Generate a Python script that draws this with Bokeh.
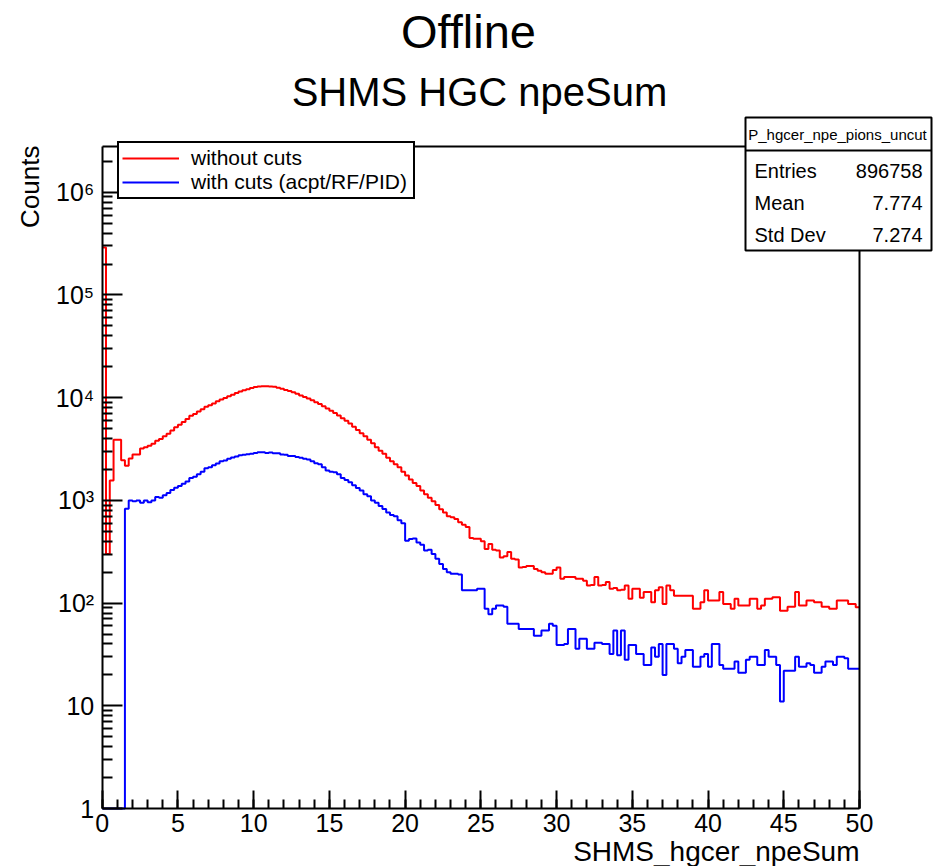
import math
from bokeh.plotting import figure
from bokeh.models import (FixedTicker, Label, BoxAnnotation, Legend, LegendItem,
                          LinearAxis, Range1d)
from bokeh.embed import file_html
from bokeh.resources import INLINE

FONT = "Liberation Sans"

# ---- data ----
bin_width = 0.25
x_ticks = [0, 5, 10, 15, 20, 25, 30, 35, 40, 45, 50]
x_minor_ticks = list(range(0, 51))
y_ticks = [1, 10, 100, 1000, 10000, 100000, 1000000]
y_tick_labels = ["1", "10", "10\u00b2", "10\u00b3", "10\u2074", "10\u2075", "10\u2076"]

counts_uncut = [
    290000, 300, 1560, 3900, 3900, 2460, 2170, 2560, 2800, 2800,
    3200, 3300, 3400, 3550, 3800, 3950, 4200, 4450, 4800, 5150,
    5450, 5800, 6200, 6650, 6950, 7350, 7700, 8150, 8450, 8800,
    9250, 9600, 9950, 10350, 10700, 11100, 11500, 11800, 12100, 12400,
    12700, 12850, 12950, 12950, 12850, 12750, 12500, 12200, 11900, 11600,
    11300, 10900, 10500, 10150, 9800, 9450, 9050, 8700, 8250, 7850,
    7450, 7100, 6700, 6300, 5950, 5600, 5200, 4850, 4500, 4200,
    3900, 3600, 3300, 3050, 2850, 2600, 2400, 2250, 2100, 1900,
    1750, 1600, 1480, 1380, 1250, 1150, 1060, 980, 900, 820,
    760, 700, 686, 660, 612, 580, 550, 430, 424, 424,
    400, 337, 377, 330, 325, 278, 285, 314, 270, 265,
    222, 225, 230, 230, 215, 207, 200, 193, 193, 210,
    222, 173, 179, 179, 179, 173, 173, 165, 148, 150,
    179, 148, 150, 160, 138, 140, 133, 135, 148, 110,
    138, 138, 113, 128, 128, 102, 133, 143, 98, 148,
    133, 118, 118, 118, 118, 118, 88, 88, 102, 133,
    106, 106, 106, 128, 98, 98, 88, 110, 95, 95,
    95, 110, 110, 88, 95, 110, 110, 114, 114, 84,
    84, 92, 92, 128, 95, 95, 106, 106, 102, 102,
    92, 92, 88, 88, 106, 106, 106, 98, 98, 91,
]

counts_cut = [
    0, 0, 0, 0, 0, 0, 830, 1000, 980, 1000,
    950, 1000, 960, 1000, 1080, 1060, 1120, 1180, 1260, 1330,
    1380, 1450, 1530, 1650, 1700, 1800, 1900, 2050, 2100, 2200,
    2280, 2400, 2450, 2550, 2620, 2680, 2750, 2780, 2820, 2850,
    2900, 2950, 2950, 2900, 2920, 2880, 2870, 2800, 2780, 2700,
    2700, 2650, 2600, 2550, 2500, 2400, 2300, 2250, 2100, 1950,
    1900, 1880, 1800, 1650, 1580, 1500, 1400, 1320, 1250, 1150,
    1100, 1000, 950, 880, 825, 760, 720, 700, 640, 600,
    405, 420, 425, 390, 370, 325, 330, 300, 270, 240,
    215, 200, 193, 193, 190, 133, 133, 133, 133, 138,
    138, 88, 78, 88, 95, 95, 92, 63, 63, 63,
    56, 56, 56, 56, 48, 48, 54, 54, 63, 60,
    39, 39, 40, 56, 56, 36, 45, 45, 36, 36,
    41, 41, 40, 40, 32, 54, 31, 54, 28, 39,
    39, 32, 32, 25, 25, 37, 30, 40, 20, 40,
    40, 36, 26, 30, 35, 35, 24, 24, 30, 32,
    24, 40, 40, 25, 23, 23, 23, 27, 21, 21,
    28, 30, 30, 25, 25, 35, 30, 30, 25, 11,
    22, 22, 22, 30, 24, 24, 26, 25, 21, 21,
    24, 27, 27, 25, 30, 30, 29, 23, 23, 23,
]

stats_title = "P_hgcer_npe_pions_uncut"
stats_names = ["Entries", "Mean", "Std Dev"]
stats_values = ["896758", "7.774", "7.274"]

legend_labels = ["without cuts", "with cuts (acpt/RF/PID)"]
series_colors = ["#ff0000", "#0000ff"]

# ---- geometry (canvas pixels) ----
W, H = 933, 866
PX_X0, PX_X50 = 101.7, 859.0      # where x=0 and x=50 sit
PX_Y1, PX_YMAX = 808.0, 146.0     # where y=1 and y=Y_MAX sit
X_LO, X_HI = 0, 50
Y_LO, Y_MAX = 1, 2.79e6

sx = (PX_X50 - PX_X0) / (X_HI - X_LO)
x_start = X_LO - PX_X0 / sx
x_end = X_HI + (W - PX_X50) / sx
k = (PX_Y1 - PX_YMAX) / math.log10(Y_MAX / Y_LO)
y_start = Y_LO * 10 ** (-(H - PX_Y1) / k)
y_end = Y_LO * 10 ** (PX_Y1 / k)

p = figure(width=W, height=H, x_range=Range1d(x_start, x_end),
           y_range=Range1d(y_start, y_end), y_axis_type="log",
           output_backend="svg", toolbar_location=None,
           min_border_left=0, min_border_right=0, min_border_top=0, min_border_bottom=0)
p.title.visible = False
p.background_fill_color = "white"
p.border_fill_color = "white"
p.outline_line_color = None
p.xgrid.visible = False
p.ygrid.visible = False

edges = [X_LO + i * bin_width for i in range(len(counts_uncut) + 1)]
renderers = []
for counts, color in zip([counts_uncut, counts_cut], series_colors):
    yv = [max(c, Y_LO) for c in counts]
    yv = yv + [yv[-1]]
    r = p.step(x=edges, y=yv, mode="after", line_color=color, line_width=2)
    renderers.append(r)

# x axis (drawn at y = 1)
xa = p.xaxis[0]
xa.fixed_location = Y_LO
xa.bounds = (X_LO, X_HI)
xa.ticker = FixedTicker(ticks=x_ticks, minor_ticks=x_minor_ticks)
xa.major_tick_in = 18
xa.major_tick_out = 0
xa.minor_tick_in = 9
xa.minor_tick_out = 0
xa.axis_line_width = 2
xa.major_tick_line_width = 2
xa.minor_tick_line_width = 2
xa.major_label_text_font = FONT
xa.major_label_text_font_size = "25px"
xa.major_label_text_color = "black"
xa.major_label_standoff = 5

# y axis (drawn at x = 0)
minor_y = [m * 10 ** e for e in range(0, 7) for m in range(2, 10) if m * 10 ** e <= Y_MAX]
ya = p.yaxis[0]
ya.fixed_location = X_LO
ya.bounds = (Y_LO, Y_MAX)
ya.ticker = FixedTicker(ticks=y_ticks, minor_ticks=minor_y)
ya.major_label_overrides = {t: lab for t, lab in zip(y_ticks, y_tick_labels)}
ya.major_tick_in = 20
ya.major_tick_out = 0
ya.minor_tick_in = 10
ya.minor_tick_out = 0
ya.axis_line_width = 2
ya.major_tick_line_width = 2
ya.minor_tick_line_width = 2
ya.major_label_text_font = FONT
ya.major_label_text_font_size = "25px"
ya.major_label_text_color = "black"
ya.major_label_standoff = 8

# top and right frame edges as plain axes
for loc, side, bnds in [(Y_MAX, "above", (X_LO, X_HI)), (X_HI, "right", (Y_LO, Y_MAX))]:
    ax = LinearAxis(fixed_location=loc, bounds=bnds, ticker=FixedTicker(ticks=[]),
                    major_tick_in=0, major_tick_out=0, minor_tick_in=0, minor_tick_out=0,
                    axis_line_width=2, axis_line_color="black",
                    major_label_text_font_size="0px")
    p.add_layout(ax, side)

# legend (location = bottom-left corner of the box, from the canvas bottom)
legend = Legend(items=[LegendItem(label=l, renderers=[r]) for l, r in zip(legend_labels, renderers)],
                location=(117, H - 199), orientation="vertical")
legend.label_text_font = FONT
legend.label_text_font_size = "21px"
legend.label_text_color = "black"
legend.glyph_width = 57
legend.glyph_height = 24
legend.label_height = 24
legend.label_width = 219
legend.label_standoff = 12
legend.padding = 3
legend.spacing = 0
legend.margin = 0
legend.border_line_color = "black"
legend.border_line_width = 2
legend.border_line_alpha = 1
legend.background_fill_color = "white"
legend.background_fill_alpha = 1
p.add_layout(legend)


def canvas_label(x, y, text, size, align="center", angle=0.0):
    return Label(x=x, y=y, x_units="canvas", y_units="canvas", text=text, angle=angle,
                 text_font=FONT, text_font_size=size, text_align=align,
                 text_baseline="middle", text_color="black")


# titles
p.add_layout(canvas_label(468, 31, "Offline", "47px"))
p.add_layout(canvas_label(479, 91, "SHMS HGC npeSum", "40px"))
# axis titles
p.add_layout(canvas_label(859, 851, "SHMS_hgcer_npeSum", "28px", align="right"))
p.add_layout(canvas_label(29, 145, "Counts", "26px", align="right", angle=math.pi / 2))

# stats box
p.add_layout(BoxAnnotation(left=745, right=931, top=117, bottom=250,
                           left_units="canvas", right_units="canvas",
                           top_units="canvas", bottom_units="canvas",
                           fill_color="white", fill_alpha=1,
                           line_color="black", line_alpha=1, line_width=2))
p.add_layout(BoxAnnotation(left=745, right=931, top=149, bottom=151,
                           left_units="canvas", right_units="canvas",
                           top_units="canvas", bottom_units="canvas",
                           fill_color="black", fill_alpha=1,
                           line_color="black", line_alpha=1, line_width=0))
p.add_layout(canvas_label(837, 134, stats_title, "15px"))
row_y = [170, 202, 234]
for name, val, yy in zip(stats_names, stats_values, row_y):
    p.add_layout(canvas_label(754, yy, name, "20px", align="left"))
    p.add_layout(canvas_label(922, yy, val, "20px", align="right"))

open("out.html", "w").write(file_html(p, INLINE))
